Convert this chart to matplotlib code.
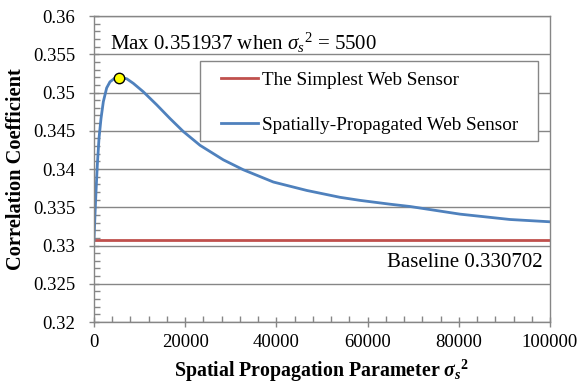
import numpy as np
import matplotlib
matplotlib.use("Agg")
import matplotlib.pyplot as plt
from matplotlib.patches import Rectangle

plt.rcParams["font.family"] = "Liberation Serif"
plt.rcParams["mathtext.fontset"] = "custom"
plt.rcParams["mathtext.rm"] = "Liberation Serif"
plt.rcParams["mathtext.it"] = "Liberation Serif:italic"
plt.rcParams["mathtext.bf"] = "Liberation Serif:bold"
plt.rcParams["mathtext.bfit"] = "Liberation Serif:italic:bold"

# Data
sigma2 = [0, 220, 440, 730, 1100, 1540, 2050, 2780, 3510, 4610, 5500, 7170, 8620,
          10810, 13740, 16670, 19590, 23250, 28360, 32750, 39330, 46640, 53950,
          58330, 64910, 69300, 80260, 91230, 100000]
corr = [0.3307, 0.3340, 0.3370, 0.3405, 0.3440, 0.3466, 0.3488, 0.3506, 0.3514,
        0.3519, 0.351937, 0.3518, 0.3512, 0.3501, 0.3484, 0.3466, 0.3449, 0.3431,
        0.3412, 0.3399, 0.3383, 0.3372, 0.3363, 0.3359, 0.3354, 0.3351, 0.3341,
        0.3334, 0.3331]
baseline = 0.330702
max_x, max_y = 5500, 0.351937

grey = "#868686"

fig = plt.figure(figsize=(5.78, 3.86), dpi=100)
ax = fig.add_axes([0.1626, 0.1658, 0.789, 0.7927])

ax.set_xlim(0, 100000)
ax.set_ylim(0.32, 0.36)
ax.set_yticks(np.arange(0.32, 0.3601, 0.005))
ax.set_yticks(np.arange(0.32, 0.3601, 0.001), minor=True)
ax.set_xticks(np.arange(0, 100001, 20000))
ax.set_xticks(np.arange(0, 100001, 4000), minor=True)
ax.set_yticklabels(["0.32", "0.325", "0.33", "0.335", "0.34", "0.345", "0.35", "0.355", "0.36"])
ax.set_xticklabels([str(v) for v in range(0, 100001, 20000)])
ax.grid(axis="y", which="major", color=grey, linewidth=1.0)
ax.set_axisbelow(True)
ax.tick_params(which="major", direction="inout", length=7, width=1, color=grey,
               labelsize=13.5, pad=5)
ax.tick_params(axis="y", which="major", pad=10)
ax.tick_params(which="minor", direction="in", length=4, width=1, color=grey)
for s in ax.spines.values():
    s.set_color(grey)
    s.set_linewidth(1.0)

ax.plot([0, 100000], [baseline, baseline], color="#C0504D", linewidth=2.0,
        label="The Simplest Web Sensor")
ax.plot(sigma2, corr, color="#4F81BD", linewidth=2.0, solid_joinstyle="round",
        label="Spatially-Propagated Web Sensor")
ax.plot(max_x, max_y, "o", markersize=7.5, markerfacecolor="#FFFF00",
        markeredgecolor="black", markeredgewidth=1.0, zorder=5)

ax.text(3600, 0.35647, r"Max 0.351937 when $\sigma_s{}^2$ = 5500", fontsize=15,
        va="center", ha="left")
ax.text(98400, 0.32784, "Baseline 0.330702", fontsize=15, va="center", ha="right")

# legend box drawn separately so the entries can sit further in
ax.add_patch(Rectangle((0.232, 0.592), 0.742, 0.261, transform=ax.transAxes,
                       facecolor="white", edgecolor=grey, linewidth=1.0, zorder=6))
leg = ax.legend(loc="upper left", bbox_to_anchor=(0.2785, 0.818),
                fontsize=13.8, frameon=False, handlelength=1.95, handletextpad=0.2,
                labelspacing=1.42, borderpad=0, borderaxespad=0)
leg.set_zorder(7)

ax.set_ylabel("Correlation Coefficient", fontsize=14.7, fontweight="bold", labelpad=5)
ax.set_xlabel(r"Spatial Propagation Parameter $\mathbfit{\sigma_s}^\mathbf{2}$",
              fontsize=14.3, fontweight="bold", labelpad=5)

fig.savefig("out.png", dpi=100)
